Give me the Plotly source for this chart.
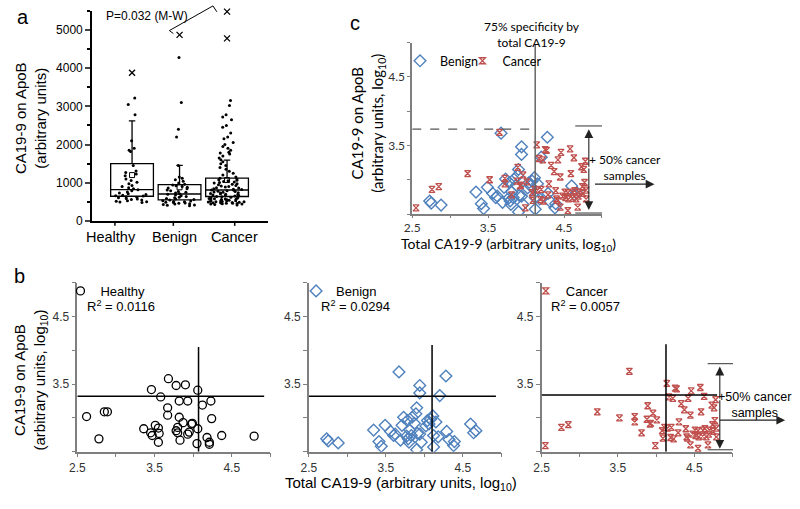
import plotly.graph_objects as go

W, H = 800, 509
def X(px): return px / W
def Y(py): return 1 - py / H

ARIAL = "Liberation Sans, Arial, sans-serif"
CAL = "Lato, sans-serif"
BLUE = "#4F81BD"
RED = "#C0504D"

# ---------------- Panel a data ----------------
groups = ["Healthy", "Benign", "Cancer"]
healthy_vals = [480, 495, 505, 515, 530, 545, 560, 575, 590, 605, 620, 635, 650, 660, 670, 690,
                710, 730, 760, 790, 815, 840, 870, 900, 930, 970, 1010, 1060, 1100, 1180, 1230,
                1270, 1310, 1450, 1820, 1850, 1900, 2100, 2780, 3050, 3220]
benign_vals = [400, 410, 420, 430, 440, 450, 460, 470, 480, 490, 500, 510, 520, 530, 545, 560,
               575, 590, 605, 620, 640, 660, 680, 700, 710, 730, 750, 770, 790, 810, 840, 860,
               880, 900, 920, 940, 960, 990, 1040, 1080, 1120, 1150, 1450, 2200, 2400, 3100, 4280]
cancer_vals = [420, 430, 440, 445, 450, 455, 460, 465, 470, 475, 480, 485, 490, 495, 500, 505,
               510, 515, 520, 525, 530, 540, 545, 550, 555, 560, 570, 575, 580, 590, 600, 605,
               610, 620, 630, 640, 650, 660, 670, 680, 690, 700, 710, 720, 730, 740, 750, 760,
               770, 780, 790, 800, 810, 820, 830, 845, 860, 870, 885, 900, 915, 930, 945, 960,
               975, 990, 1005, 1020, 1035, 1050, 1065, 1080, 1100, 1120, 1150, 1200, 1250, 1300,
               1350, 1400, 1450, 1500, 1550, 1600, 1650, 1700, 1750, 1780, 1800, 1850, 1900,
               1950, 2000, 2050, 2150, 2200, 2300, 2450, 2500, 2650, 2720, 2780, 3020, 3150]
box_q1 = [646, 550, 640]
box_median = [820, 705, 810]
box_q3 = [1500, 950, 1120]
box_upper = [2620, 1455, 1590]
box_mean = [1200, 880, 1070]
extreme_groups = ["Healthy", "Benign", "Cancer", "Cancer"]
extreme_vals = [3880, 4870, 5480, 4780]
a_ticks = [0, 1000, 2000, 3000, 4000, 5000]

# ---------------- Panels b / c data (log10) ----------------
healthy_total = [2.62, 2.78, 2.85, 2.89, 3.36, 3.46, 3.45, 3.47, 3.51, 3.55, 3.56, 3.55, 3.58, 3.68,
                 3.67, 3.67, 3.78, 3.82, 3.82, 3.78, 3.80, 3.80, 3.83, 3.87, 3.90, 3.93, 3.93, 3.95,
                 3.98, 3.99, 4.06, 4.06, 4.05, 4.12, 4.23, 4.24, 4.18, 4.21, 4.21, 4.37, 4.79]
healthy_apob = [3.02, 2.69, 3.09, 3.09, 2.84, 3.42, 2.78, 2.74, 2.89, 2.85, 2.77, 2.64, 3.31, 3.58,
                3.15, 3.04, 3.48, 3.25, 3.01, 2.81, 2.78, 2.86, 2.67, 2.93, 3.49, 3.25, 2.76, 2.79,
                2.91, 2.92, 3.41, 2.84, 2.62, 3.19, 3.25, 2.99, 2.71, 2.64, 2.61, 2.74, 2.73]
benign_total = [2.73, 2.75, 2.88, 3.34, 3.41, 3.44, 3.49, 3.56, 3.60, 3.62, 3.67, 3.69, 3.71, 3.73,
                3.78, 3.77, 3.79, 3.80, 3.81, 3.83, 3.84, 3.87, 3.89, 3.90, 3.90, 3.91, 3.94, 3.94,
                3.94, 3.96, 4.02, 4.04, 4.06, 4.08, 4.11, 4.12, 4.12, 4.15, 4.18, 4.20, 4.28, 4.29,
                4.32, 4.38, 4.39, 4.60, 4.64, 4.67]
benign_apob = [2.69, 2.66, 2.63, 2.82, 2.65, 2.58, 2.89, 2.80, 2.74, 2.76, 3.68, 2.67, 2.89, 3.01,
               2.96, 2.73, 2.69, 2.64, 2.82, 2.74, 3.01, 2.92, 3.06, 3.15, 2.53, 2.77, 3.48, 3.37,
               2.76, 2.64, 2.88, 2.96, 2.91, 2.98, 3.03, 2.74, 2.57, 2.94, 2.72, 3.33, 3.62, 2.80,
               2.68, 2.59, 2.65, 2.91, 2.78, 2.81]
cancer_total = [2.55, 2.76, 2.85, 3.23, 3.52, 3.65, 3.72, 3.72, 3.81, 3.89, 3.88, 3.92, 3.93, 3.96,
                4.01, 3.99, 4.08, 4.09, 4.11, 4.14, 4.15, 4.17, 4.20, 4.19, 4.22, 4.23, 4.25, 4.27,
                4.29, 4.30, 4.33, 4.37, 4.39, 4.40, 4.41, 4.42, 4.45, 4.45, 4.46, 4.48, 4.51, 4.52,
                4.55, 4.55, 4.56, 4.58, 4.59, 4.61, 4.63, 4.64, 4.66, 4.68, 4.69, 4.70, 4.73, 4.74,
                4.76, 4.77, 4.78, 4.79, 4.79, 4.75, 4.61]
cancer_apob = [2.59, 2.86, 2.90, 3.09, 3.00, 3.69, 3.02, 2.94, 2.78, 3.18, 2.98, 2.91, 2.92, 3.07,
               2.97, 2.59, 2.81, 2.70, 2.86, 3.51, 2.85, 3.31, 2.86, 2.71, 3.29, 2.69, 3.44, 3.43,
               2.78, 2.94, 3.21, 3.12, 2.84, 2.72, 2.70, 3.29, 3.04, 2.60, 3.40, 2.76, 2.82, 2.74,
               2.81, 2.55, 2.72, 3.45, 3.09, 2.82, 3.32, 2.84, 2.72, 2.60, 2.76, 2.82, 3.19, 2.90,
               3.15, 2.96, 3.27, 2.85, 2.72, 2.80, 2.73]
r2_labels = ["R<sup>2</sup> = 0.0116", "R<sup>2</sup> = 0.0294", "R<sup>2</sup> = 0.0057"]
log_x_ticks = [2.5, 3.5, 4.5]
log_y_ticks = [3.5, 4.5]
log_minor = [2.5, 3.0, 4.0, 5.0]
b_vline = [4.07, 4.10, 4.13]
b_vline_top = [4.05, 4.08, 4.09]
b_hline = [3.32, 3.32, 3.34]
b_hline_end = [4.92, 4.93, 4.80]
c_vline = 4.12
c_dash = 3.74

fig = go.Figure()

# ---------------- Panel a traces ----------------
fig.add_trace(go.Box(x=groups, q1=box_q1, median=box_median, q3=box_q3,
                     lowerfence=box_q1, upperfence=box_upper, width=0.9, whiskerwidth=0.15,
                     fillcolor="rgba(0,0,0,0)", line=dict(color="black", width=1.3),
                     boxpoints=False, xaxis="x", yaxis="y", showlegend=False, hoverinfo="skip"))
for g, vals in zip(groups, [healthy_vals, benign_vals, cancer_vals]):
    fig.add_trace(go.Box(x=[g] * len(vals), y=vals, boxpoints="all", jitter=0.9, pointpos=0,
                         width=0.9, fillcolor="rgba(0,0,0,0)",
                         line=dict(color="rgba(0,0,0,0)", width=0),
                         marker=dict(color="black", size=3), xaxis="x", yaxis="y",
                         showlegend=False, hoverinfo="y"))
fig.add_trace(go.Scatter(x=groups, y=box_mean, mode="markers", xaxis="x", yaxis="y",
                         marker=dict(symbol="square-open", size=5, color="black",
                                     line=dict(width=1)), showlegend=False))
fig.add_trace(go.Scatter(x=extreme_groups, y=extreme_vals, mode="markers", xaxis="x", yaxis="y",
                         cliponaxis=False,
                         marker=dict(symbol="x-thin-open", size=6, color="black",
                                     line=dict(width=1.3, color="black")), showlegend=False))

# ---------------- Panel b traces ----------------
fig.add_trace(go.Scatter(x=healthy_total, y=healthy_apob, mode="markers", name="Healthy",
                         xaxis="x2", yaxis="y2", legend="legend",
                         marker=dict(symbol="circle-open", size=8, color="black",
                                     line=dict(width=1.3, color="black"))))
fig.add_trace(go.Scatter(x=benign_total, y=benign_apob, mode="markers", name="Benign",
                         xaxis="x3", yaxis="y3", legend="legend2",
                         marker=dict(symbol="diamond-open", size=9, color=BLUE,
                                     line=dict(width=1.4, color=BLUE))))
fig.add_trace(go.Scatter(x=cancer_total, y=cancer_apob, mode="markers", name="Cancer",
                         xaxis="x4", yaxis="y4", legend="legend3",
                         marker=dict(symbol="hourglass-open", size=6, color=RED,
                                     line=dict(width=1.3, color=RED))))

# ---------------- Panel c traces ----------------
fig.add_trace(go.Scatter(x=benign_total, y=benign_apob, mode="markers", name="Benign",
                         xaxis="x5", yaxis="y5", legend="legend4",
                         marker=dict(symbol="diamond-open", size=9, color=BLUE,
                                     line=dict(width=1.4, color=BLUE))))
fig.add_trace(go.Scatter(x=cancer_total, y=cancer_apob, mode="markers", name="Cancer",
                         xaxis="x5", yaxis="y5", legend="legend5",
                         marker=dict(symbol="hourglass-open", size=6, color=RED,
                                     line=dict(width=1.3, color=RED))))

# ---------------- Axes ----------------
GRAY = "#7f7f7f"
def log_axis(domain, anchor, font, ticks, tlen):
    return dict(domain=domain, anchor=anchor, range=[2.5, 5.0], tickvals=ticks,
                ticks="outside", ticklen=tlen, tickcolor=GRAY,
                minor=dict(tickvals=log_minor, ticks="outside", ticklen=tlen, tickcolor=GRAY),
                showline=True, linecolor=GRAY, linewidth=1.5, showgrid=False, zeroline=False,
                tickfont=dict(family=font, size=12, color="#333"))

b_ydom = [Y(458), Y(286.7)]
fig.update_layout(
    xaxis=dict(domain=[X(85), X(263)], anchor="y", type="category", categoryorder="array",
               categoryarray=groups, range=[-0.84, 2.87], showline=True, linecolor="black",
               linewidth=2, ticks="", showticklabels=False, showgrid=False, zeroline=False),
    yaxis=dict(domain=[Y(224), Y(11)], anchor="x", range=[0, 5500], tickvals=a_ticks,
               ticks="outside", ticklen=5, tickwidth=1.5, showline=True, linecolor="black",
               linewidth=2, showgrid=False, zeroline=False,
               tickfont=dict(family=ARIAL, size=12, color="black"),
               minor=dict(dtick=500, ticks="outside", ticklen=3, tickcolor="black")),
    xaxis2=log_axis([X(70), X(265)], "y2", ARIAL, log_x_ticks, 4),
    yaxis2=log_axis(b_ydom, "x2", ARIAL, log_y_ticks, 4),
    xaxis3=log_axis([X(304), X(498.3)], "y3", ARIAL, log_x_ticks, 4),
    yaxis3=log_axis(b_ydom, "x3", ARIAL, log_y_ticks, 4),
    xaxis4=log_axis([X(539), X(731.7)], "y4", ARIAL, log_x_ticks, 4),
    yaxis4=log_axis(b_ydom, "x4", ARIAL, log_y_ticks, 4),
    xaxis5=log_axis([X(408.3), X(600)], "y5", CAL, log_x_ticks, 2),
    yaxis5=log_axis([Y(217), Y(43.3)], "x5", CAL, log_y_ticks, 3),
)

legend_common = dict(bgcolor="rgba(0,0,0,0)", borderwidth=0, xanchor="left", yanchor="middle",
                     itemclick=False, itemdoubleclick=False)
bfont = dict(family=ARIAL, size=13, color="black")
cfont = dict(family=CAL, size=12.5, color="black")
fig.update_layout(
    legend=dict(x=X(53), y=Y(295), font=bfont, **legend_common),
    legend2=dict(x=X(291), y=Y(295), font=bfont, **legend_common),
    legend3=dict(x=X(523), y=Y(295), font=bfont, **legend_common),
    legend4=dict(x=X(396), y=Y(62), font=cfont, **legend_common),
    legend5=dict(x=X(459), y=Y(62), font=cfont, **legend_common),
)

# ---------------- Shapes ----------------
shapes = []
for px in [108, 167, 229]:
    shapes.append(dict(type="line", xref="paper", yref="paper", x0=X(px), x1=X(px),
                       y0=Y(224), y1=Y(229), line=dict(color="black", width=1.5)))
shapes.append(dict(type="path", xref="paper", yref="paper",
                   path=f"M {X(167)} {Y(34)} L {X(163)} {Y(31)} L {X(207)} {Y(6)} L {X(211)} {Y(12)}",
                   line=dict(color="black", width=1)))
for i, (xa, ya) in enumerate([("x2", "y2"), ("x3", "y3"), ("x4", "y4")]):
    shapes.append(dict(type="line", xref=xa, yref=ya, x0=2.5, x1=b_hline_end[i],
                       y0=b_hline[i], y1=b_hline[i], line=dict(color="black", width=1.5)))
    shapes.append(dict(type="line", xref=xa, yref=ya, x0=b_vline[i], x1=b_vline[i],
                       y0=2.5, y1=b_vline_top[i], line=dict(color="black", width=1.5)))
shapes.append(dict(type="line", xref="x5", yref="y5", x0=c_vline, x1=c_vline, y0=2.5, y1=4.98,
                   line=dict(color="#666", width=1.5)))
shapes.append(dict(type="line", xref="x5", yref="y5", x0=2.5, x1=c_vline, y0=c_dash, y1=c_dash,
                   line=dict(color="#555", width=1.2, dash="dash")))
for (x0, x1, yy) in [(573, 600, 127.7), (573, 600, 216), (706.7, 732.3, 368.7), (706.7, 732.3, 456)]:
    shapes.append(dict(type="line", xref="paper", yref="paper", x0=X(x0), x1=X(x1), y0=Y(yy), y1=Y(yy),
                       line=dict(color="#555", width=1.2)))
fig.update_layout(shapes=shapes)

# ---------------- Annotations ----------------
ann = []
def txt(text, px, py, size, family=ARIAL, xanchor="center", angle=0, color="black"):
    ann.append(dict(text=text, x=X(px), y=Y(py), xref="paper", yref="paper", showarrow=False,
                    xanchor=xanchor, yanchor="middle", textangle=angle, align="center",
                    font=dict(family=family, size=size, color=color)))
def arrow(hx, hy, tx, ty):
    ann.append(dict(text="", x=X(hx), y=Y(hy), xref="paper", yref="paper", showarrow=True,
                    ax=tx - hx, ay=ty - hy, axref="pixel", ayref="pixel", arrowhead=2,
                    arrowsize=1.6, arrowwidth=1.1, arrowcolor="#222"))

txt("a", 15, 17, 20)
txt("P=0.032 (M-W)", 140, 16, 12)
for lab, px in zip(groups, [104, 168, 229]):
    txt(lab, px, 240, 14.5)
txt("CA19-9 on ApoB<br>(arbitrary units)", 23, 120, 15, angle=-90)

txt("c", 351, 23, 20)
txt("75% specificity by<br>total CA19-9", 529, 35, 12, family=CAL)
txt("CA19-9 on ApoB<br>(arbitrary units, log<sub>10</sub>)", 364, 125, 15, family=CAL, angle=-90)
txt("Total CA19-9 (arbitrary units, log<sub>10</sub>)", 506, 247.5, 14, family=CAL)
txt("+ 50% cancer<br>samples", 585, 170, 12, family=CAL, xanchor="left")
arrow(586.7, 131, 586.7, 170)
arrow(586.7, 213, 586.7, 170)
arrow(653, 186.7, 592, 186.7)

txt("b", 12, 280, 20)
txt("CA19-9 on ApoB<br>(arbitrary units, log<sub>10</sub>)", 23, 385, 15, angle=-90)
txt("Total CA19-9 (arbitrary units, log<sub>10</sub>)", 397, 490, 15)
for lab, px in zip(r2_labels, [77.3, 314.3, 546]):
    txt(lab, px, 310, 13, xanchor="left")
txt("+50% cancer<br>samples", 715, 411, 12.5, xanchor="left")
arrow(719, 371.7, 719, 405)
arrow(719, 455, 719, 405)
arrow(785, 426, 718, 426)
fig.update_layout(annotations=ann)

fig.update_layout(width=W, height=H, autosize=False, margin=dict(l=0, r=0, t=0, b=0),
                  paper_bgcolor="white", plot_bgcolor="white", boxmode="overlay",
                  showlegend=True)
fig.write_html("out.html", config={"displayModeBar": False},
               post_script="document.body.style.margin='0px';")
